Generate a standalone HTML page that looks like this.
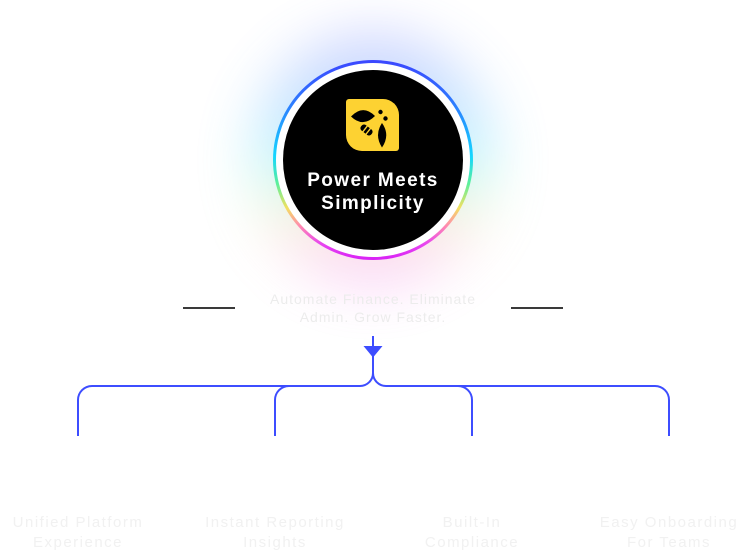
<!DOCTYPE html>
<html>
<head>
<meta charset="utf-8">
<style>
  html,body{margin:0;padding:0;background:#fff;}
  body{width:747px;height:551px;position:relative;overflow:hidden;font-family:"Liberation Sans",Arial,sans-serif;}
  .glow{position:absolute;left:251px;top:34px;width:244px;height:252px;border-radius:50%;
    background:linear-gradient(to bottom,#6060ff 0%,#4a9cff 25%,#3fe0ff 48%,#8ff0b0 62%,#f7e07a 72%,#f58ad0 84%,#ea5cf2 100%);
    filter:blur(28px);opacity:0.3;}
  .ring{position:absolute;left:273px;top:60px;width:200px;height:200px;border-radius:50%;
    background:linear-gradient(to bottom,#3b46ff 0%,#2d7cff 22%,#14d6ff 48%,#5ef09a 62%,#f3e060 74%,#ff8ab0 83%,#e845f0 92%,#d820f6 100%);}
  .white{position:absolute;left:276px;top:63px;width:194px;height:194px;border-radius:50%;background:#fff;}
  .black{position:absolute;left:283px;top:70px;width:180px;height:180px;border-radius:50%;background:#000;}
  .title{position:absolute;left:273px;width:200px;top:169px;text-align:center;color:#fff;font-weight:bold;font-size:19px;line-height:23px;letter-spacing:1.4px;}
  .sub{position:absolute;left:223px;width:300px;top:290px;text-align:center;color:#ececec;font-size:14px;line-height:18px;letter-spacing:1px;}
  .lbl{position:absolute;top:513px;width:180px;text-align:center;color:#f1f1f1;font-size:15px;line-height:20px;letter-spacing:1.5px;}
  .hl{position:absolute;height:2px;background:#3a3a3a;top:307px;width:52px;}
</style>
</head>
<body>
  <div class="glow"></div>
  <div class="ring"></div>
  <div class="white"></div>
  <div class="black"></div>

  <svg style="position:absolute;left:346px;top:99px" width="54" height="53" viewBox="0 0 54 53">
    <path d="M3 0 H37 A16 16 0 0 1 53 16 V49 A3 3 0 0 1 50 52 H16 A16 16 0 0 1 0 36 V3 A3 3 0 0 1 3 0 Z" fill="#fdd232"/>
    <path d="M5 17.5 Q17 5 29 17 Q17 29 5 17.5 Z" fill="#000"/>
    <circle cx="34.5" cy="13" r="2.2" fill="#000"/>
    <circle cx="39.5" cy="19.5" r="2.2" fill="#000"/>
    <path d="M36 24 Q44.5 36 36 48.5 Q28 36 36 24 Z" fill="#000"/>
    <g transform="translate(20.5,31) rotate(38)">
      <rect x="-6.5" y="-3.5" width="13" height="7" rx="3" fill="#000"/>
      <rect x="-2.5" y="-4" width="1.4" height="8" fill="#fdd232"/>
      <rect x="1.5" y="-4" width="1.4" height="8" fill="#fdd232"/>
    </g>
  </svg>

  <div class="title">Power Meets<br>Simplicity</div>

  <div class="hl" style="left:183px"></div>
  <div class="hl" style="left:511px"></div>
  <div class="sub">Automate Finance. Eliminate<br>Admin. Grow Faster.</div>

  <svg style="position:absolute;left:0;top:0" width="747" height="551" viewBox="0 0 747 551">
    <g fill="none" stroke="#3d4dff" stroke-width="2">
      <path d="M373 336 V373"/>
      <path d="M78 436 V400 A14 14 0 0 1 92 386 H360 A13 13 0 0 0 373 373 A13 13 0 0 0 386 386 H655 A14 14 0 0 1 669 400 V436"/>
      <path d="M275 436 V400 A14 14 0 0 1 289 386"/>
      <path d="M472 436 V400 A14 14 0 0 0 458 386"/>
    </g>
    <polygon points="363.5,346 382.5,346 373,357.5" fill="#3d4dff"/>
  </svg>

  <div class="lbl" style="left:-12px">Unified Platform<br>Experience</div>
  <div class="lbl" style="left:185px">Instant Reporting<br>Insights</div>
  <div class="lbl" style="left:382px">Built-In<br>Compliance</div>
  <div class="lbl" style="left:579px">Easy Onboarding<br>For Teams</div>
</body>
</html>
